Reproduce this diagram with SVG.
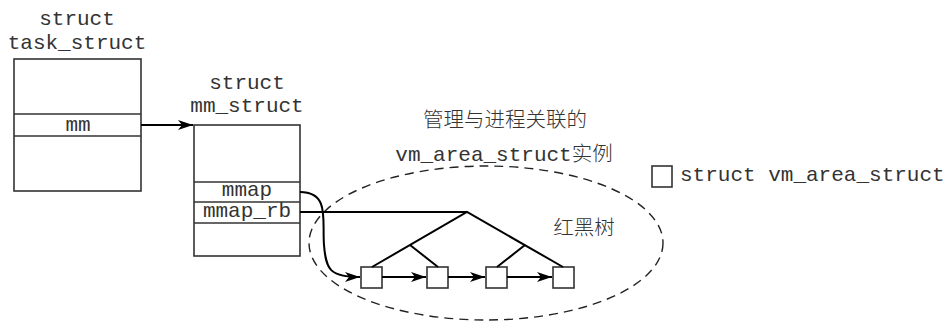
<svg xmlns="http://www.w3.org/2000/svg" width="948" height="323" viewBox="0 0 948 323">
<style>
text{font-family:"Liberation Mono","Noto Sans CJK SC",monospace;font-size:21px;fill:#333}
.cjk{font-family:"Noto Sans CJK SC",sans-serif;font-size:20.5px;font-weight:300;fill:#333}
.box{fill:#fff;stroke:#333;stroke-width:1.6}
.ln{stroke:#333;stroke-width:1.6;fill:none}
.cn{stroke:#000;stroke-width:2;fill:none}
</style>
<defs>
<marker id="ah" viewBox="0 0 15 10" refX="15" refY="5" markerWidth="15" markerHeight="10" markerUnits="userSpaceOnUse" orient="auto">
<path d="M0,0 L15,5 L0,10 L4,5 Z" fill="#000"/>
</marker>
</defs>
<g id="task_struct">
<text x="77" y="25" text-anchor="middle">struct</text>
<text x="77" y="49" text-anchor="middle">task_struct</text>
<rect class="box" x="14" y="59" width="127" height="132"/>
<line class="ln" x1="14" y1="114" x2="141" y2="114"/>
<line class="ln" x1="14" y1="136" x2="141" y2="136"/>
<text x="78" y="131" text-anchor="middle">mm</text>
</g>
<g id="mm_struct">
<text x="247" y="89" text-anchor="middle">struct</text>
<text x="247" y="112" text-anchor="middle">mm_struct</text>
<rect class="box" x="194" y="125" width="106" height="131"/>
<line class="ln" x1="194" y1="182" x2="300" y2="182"/>
<line class="ln" x1="194" y1="202" x2="300" y2="202"/>
<line class="ln" x1="194" y1="223" x2="300" y2="223"/>
<text x="247" y="196" text-anchor="middle">mmap</text>
<text x="247" y="217" text-anchor="middle">mmap_rb</text>
</g>
<g id="vma_set">
<ellipse cx="486" cy="243" rx="177" ry="77" fill="none" stroke="#222" stroke-width="1.4" stroke-dasharray="9,6"/>
<text class="cjk" x="505" y="127" text-anchor="middle">管理与进程关联的</text>
<text x="504" y="161" text-anchor="middle">vm_area_struct<tspan class="cjk">实例</tspan></text>
<text class="cjk" x="584" y="235" text-anchor="middle">红黑树</text>
</g>
<g id="vma1"><rect class="box" x="361" y="267" width="21" height="21"/></g>
<g id="vma2"><rect class="box" x="427" y="267" width="21" height="21"/></g>
<g id="vma3"><rect class="box" x="486" y="267" width="21" height="21"/></g>
<g id="vma4"><rect class="box" x="553" y="267" width="21" height="21"/></g>
<g id="legend">
<rect class="box" x="652" y="166" width="20" height="21"/>
<text x="680" y="181">struct vm_area_struct</text>
</g>
<g id="connectors">
<line class="cn" x1="141" y1="125" x2="193" y2="125" marker-end="url(#ah)"/>
<path class="cn" d="M300,192 C330,192 322,220 324,245 C326,270 330,277 360,277" marker-end="url(#ah)"/>
<line class="cn" x1="300" y1="212" x2="467" y2="212"/>
<polyline class="cn" points="372,267 467,212 563,267"/>
<line class="cn" x1="410" y1="245" x2="438" y2="267"/>
<line class="cn" x1="525" y1="245" x2="497" y2="267"/>
<line class="cn" x1="382" y1="277" x2="426" y2="277" marker-end="url(#ah)"/>
<line class="cn" x1="448" y1="277" x2="485" y2="277" marker-end="url(#ah)"/>
<line class="cn" x1="507" y1="277" x2="552" y2="277" marker-end="url(#ah)"/>
</g>
</svg>
